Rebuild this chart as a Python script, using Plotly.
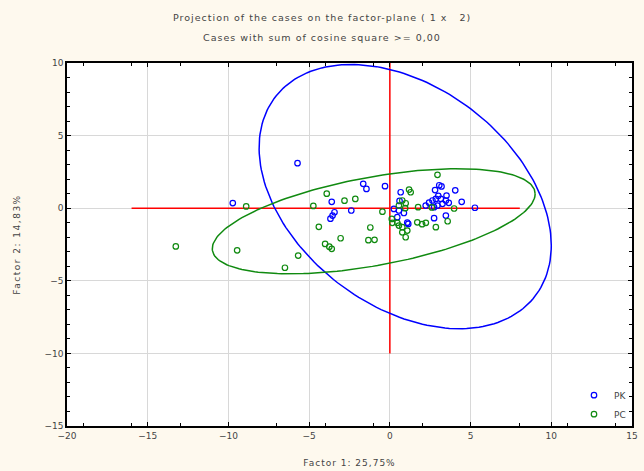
import numpy as np
import plotly.graph_objects as go

# ---- data ----
pk_x = [-5.72, -9.73, -1.65, -1.45, -0.30, -3.60, -2.39, -3.43, -3.55, -3.68,
        0.67, 0.60, 0.25, 0.56, 0.87, 1.08, 0.46, 1.14, 2.43, 2.64,
        2.80, 3.06, 3.20, 4.05, 2.85, 3.16, 3.47, 3.51, 3.26, 2.95,
        2.74, 4.45, 5.27, 3.47, 2.74, 2.22, 3.65, 3.00]
pk_y = [3.10, 0.35, 1.68, 1.33, 1.52, 0.44, -0.16, -0.28, -0.51, -0.72,
        1.10, 0.50, -0.05, -0.16, -0.33, -1.00, -0.62, -1.08, 0.38, 0.53,
        1.25, 1.58, 1.50, 1.23, 0.64, 0.64, 0.53, 0.87, 0.30, 0.18,
        0.07, 0.44, 0.03, -0.51, -0.69, 0.18, 0.37, 0.85]

pc_x = [-13.26, -9.46, -8.90, -5.68, -6.50, -4.74, -4.40, -3.91, -4.01, -3.75,
        -3.60, -3.05, -2.81, -2.14, -1.21, -1.33, -0.95, -0.46, 1.19, 1.29,
        0.77, 0.98, 1.75, 0.15, 0.12, 0.46, 0.77, 1.08, 0.77, 0.98,
        0.56, 1.70, 2.00, 2.23, 2.85, 3.58, 2.95, 3.98, 0.56, 0.95, 2.60]
pc_y = [-2.63, -2.90, 0.12, -3.26, -4.10, 0.16, -1.28, 1.00, -2.46, -2.65,
        -2.80, -2.07, 0.52, 0.64, -1.33, -2.20, -2.18, -0.24, 1.28, 1.10,
        0.53, 0.34, 0.07, -1.01, -0.74, -1.01, -1.31, -1.54, -1.66, -2.00,
        -1.20, -0.97, -1.10, -1.01, -1.31, -0.90, 2.30, -0.02, 0.18, 0.00, 0.05]

# ellipse parameters: centre x, centre y, half-width, half-height, correlation
pk_ell = dict(cx=0.95, cy=0.8, sx=9.05, sy=9.1, r=-0.37)
pc_ell = dict(cx=-1.0, cy=-0.9, sx=10.0, sy=3.62, r=0.52)

cross_h_x = [-16.0, 8.05]
cross_v_y = [-10.0, 10.0]

x_ticks = [-20, -15, -10, -5, 0, 5, 10, 15]
y_ticks = [-15, -10, -5, 0, 5, 10]

title_1 = "Projection of the cases on the factor-plane ( 1 x   2)"
title_2 = "Cases with sum of cosine square >= 0,00"
x_title = "Factor 1: 25,75%"
y_title = "Factor 2: 14,83%"

BLUE = "#0000FF"
GREEN = "#108A10"
RED = "#FF0000"
TXT = "#444444"
FONT = "DejaVu Sans"


def spaced(s, px):
    return f'<span style="letter-spacing:{px}px">{s}</span>'


def ellipse(p, n=200):
    t = np.linspace(0, 2 * np.pi, n)
    x = p["cx"] + p["sx"] * np.cos(t)
    y = p["cy"] + p["sy"] * (p["r"] * np.cos(t) + np.sqrt(1 - p["r"] ** 2) * np.sin(t))
    return x, y


fig = go.Figure()

fig.add_trace(go.Scatter(x=cross_h_x, y=[0, 0], mode="lines",
                         line=dict(color=RED, width=1.5), showlegend=False, hoverinfo="skip"))
fig.add_trace(go.Scatter(x=[0, 0], y=cross_v_y, mode="lines",
                         line=dict(color=RED, width=1.5), showlegend=False, hoverinfo="skip"))

ex, ey = ellipse(pk_ell)
fig.add_trace(go.Scatter(x=ex, y=ey, mode="lines", line=dict(color=BLUE, width=1.5),
                         showlegend=False, hoverinfo="skip"))
ex, ey = ellipse(pc_ell)
fig.add_trace(go.Scatter(x=ex, y=ey, mode="lines", line=dict(color=GREEN, width=1.5),
                         showlegend=False, hoverinfo="skip"))

fig.add_trace(go.Scatter(x=pk_x, y=pk_y, mode="markers", name="PK",
                         marker=dict(symbol="circle-open", size=5.5, color=BLUE,
                                     line=dict(width=1.2, color=BLUE))))
fig.add_trace(go.Scatter(x=pc_x, y=pc_y, mode="markers", name="PC",
                         marker=dict(symbol="circle-open", size=5.5, color=GREEN,
                                     line=dict(width=1.2, color=GREEN))))

axis_common = dict(showline=True, linecolor="black", linewidth=1.5, mirror="ticks",
                   showgrid=True, gridcolor="#D8D8D8", gridwidth=1.2, zeroline=False,
                   ticks="inside", ticklen=4, tickcolor="black",
                   tickfont=dict(family=FONT, size=9, color=TXT))

fig.update_xaxes(range=[-20, 15], tickvals=x_ticks,
                 minor=dict(tick0=-1, dtick=3, ticks="inside", ticklen=3, tickcolor="black", showgrid=False),
                 title=dict(text=spaced(x_title, 1), font=dict(family=FONT, size=9, color=TXT), standoff=20),
                 **axis_common)
fig.update_yaxes(range=[-15, 10], tickvals=y_ticks,
                 minor=dict(dtick=1, ticks="inside", ticklen=3, tickcolor="black", showgrid=False),
                 title=dict(text=spaced(y_title, 1.5), font=dict(family=FONT, size=9, color=TXT), standoff=22),
                 **axis_common)

fig.update_layout(
    width=644, height=471,
    margin=dict(l=67, r=12, t=63, b=45, autoexpand=False),
    paper_bgcolor="#FEF9EE", plot_bgcolor="white",
    font=dict(family=FONT, size=9, color=TXT),
    legend=dict(x=1, y=0.125, xanchor="right", yanchor="top",
                bgcolor="rgba(0,0,0,0)", font=dict(family=FONT, size=9, color=TXT),
                itemwidth=30, tracegroupgap=0),
    annotations=[
        dict(text=spaced(title_1, 1), xref="paper", yref="paper",
             x=0.451, y=1, yanchor="middle", yshift=46, showarrow=False,
             font=dict(family=FONT, size=9.5, color=TXT)),
        dict(text=spaced(title_2, 1), xref="paper", yref="paper",
             x=0.451, y=1, yanchor="middle", yshift=26, showarrow=False,
             font=dict(family=FONT, size=9.5, color=TXT)),
    ],
)

fig.write_html("out.html")
